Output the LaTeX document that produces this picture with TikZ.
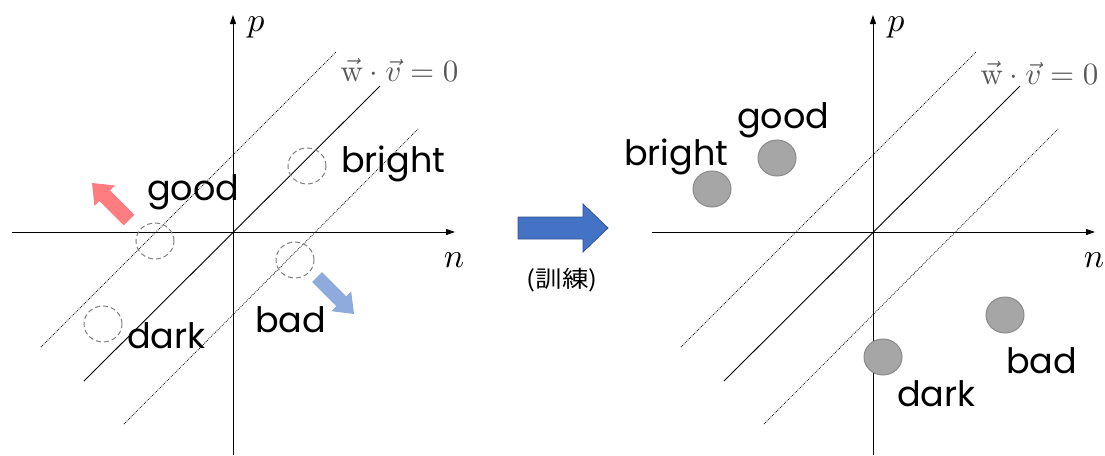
\documentclass[tikz,border=0pt]{standalone}
\usepackage{fontspec}
\usetikzlibrary{arrows.meta,shapes.geometric}
\newfontfamily\popp{Poppins}
\newfontfamily\jpfont{Noto Sans CJK JP}
\definecolor{redarr}{HTML}{FF7C80}
\definecolor{bluearr}{HTML}{8FAADC}
\definecolor{midblue}{HTML}{4472C4}
\definecolor{midedge}{HTML}{2F528F}
\definecolor{dotgray}{HTML}{7F7F7F}
\definecolor{circfill}{HTML}{A6A6A6}
\definecolor{circedge}{HTML}{8A8A8A}
\definecolor{eqgray}{HTML}{595959}
\begin{document}
\begin{tikzpicture}[x=1pt,y=-1pt,
  axis/.style={line width=1pt,-{Triangle[length=9pt,width=6pt]}},
  sepline/.style={line width=0.9pt},
  margline/.style={line width=0.75pt,dash pattern=on 0.8pt off 1.1pt},
  word/.style={font=\popp\fontsize{35}{40}\selectfont,anchor=base west,inner sep=0pt},
  mlab/.style={scale=3.4,inner sep=0pt},
  eqlab/.style={text=eqgray,scale=3.1,anchor=base west,inner sep=0pt},
  dcirc/.style={ellipse,draw=dotgray,line width=1pt,dash pattern=on 5pt off 3pt,minimum width=38pt,minimum height=36pt,inner sep=0pt},
  fcirc/.style={ellipse,fill=circfill,draw=circedge,line width=1pt,minimum width=38pt,minimum height=36pt,inner sep=0pt},
  blockarrow/.style={line width=0.8pt}
]
\useasboundingbox (0,0) rectangle (1105,455);

\foreach \s/\o/\eb in {L/0/81,R/640/84}{
  \begin{scope}[xshift=\o]
    \coordinate (xa\s) at (12,232);
    \coordinate (xb\s) at (455,232);
    \coordinate (ya\s) at (233,455);
    \coordinate (yb\s) at (233,15);
    \draw[axis] (xa\s) -- (xb\s);
    \draw[axis] (ya\s) -- (yb\s);
    \node[mlab] (p\s) at (256,27) {$p$};
    \node[mlab] (n\s) at (454,260) {$n$};
    \coordinate (sa\s) at (84,381);
    \coordinate (sb\s) at (380,86);
    \coordinate (ua\s) at (41,347);
    \coordinate (ub\s) at (336,52);
    \coordinate (la\s) at (124,424);
    \coordinate (lb\s) at (418,129);
    \draw[sepline] (sa\s) -- (sb\s);
    \draw[margline] (ua\s) -- (ub\s);
    \draw[margline] (la\s) -- (lb\s);
    \node[eqlab] (eq\s) at (340,\eb) {$\vec{\mathrm{w}}\cdot\vec{v}=0$};
  \end{scope}
}

% left panel: dashed circles and words
\node[dcirc] (cbrightL) at (307,166) {};
\node[dcirc] (cgoodL) at (155,241) {};
\node[dcirc] (cbadL) at (295,260) {};
\node[dcirc] (cdarkL) at (103,324) {};
\node[word] (wbrightL) at (341,172) {bright};
\node[word] (wgoodL) at (147,200) {good};
\node[word] (wbadL) at (255,332) {bad};
\node[word] (wdarkL) at (127,348) {dark};

% small block arrows
\fill[redarr] (134.3,214.7) -- (110.0,190.4) -- (114.95,185.45) -- (92,183)
  -- (94.45,205.95) -- (99.4,201.0) -- (123.7,225.3) -- cycle;
\fill[bluearr] (321.95,272.05) -- (346.25,296.35) -- (351.2,291.4) -- (354,314)
  -- (331.4,311.2) -- (336.35,306.25) -- (312.05,281.95) -- cycle;

% middle arrow
\filldraw[blockarrow,fill=midblue,draw=midedge] (518,217) -- (583,217) -- (583,204)
  -- (608,228) -- (583,252) -- (583,239) -- (518,239) -- cycle;
\node[font=\jpfont\fontsize{23}{26}\selectfont,xscale=1.15,inner sep=0pt] (train) at (562,280) {(訓練)};

% right panel: filled circles and words
\node[fcirc] (cbrightR) at (712,189) {};
\node[fcirc] (cgoodR) at (777,158) {};
\node[fcirc] (cbadR) at (1005,315) {};
\node[fcirc] (cdarkR) at (883,357) {};
\node[word] (wgoodR) at (737,128) {good};
\node[word] (wbrightR) at (624,165) {bright};
\node[word] (wbadR) at (1006,373) {bad};
\node[word] (wdarkR) at (897,406) {dark};
\end{tikzpicture}
\end{document}
